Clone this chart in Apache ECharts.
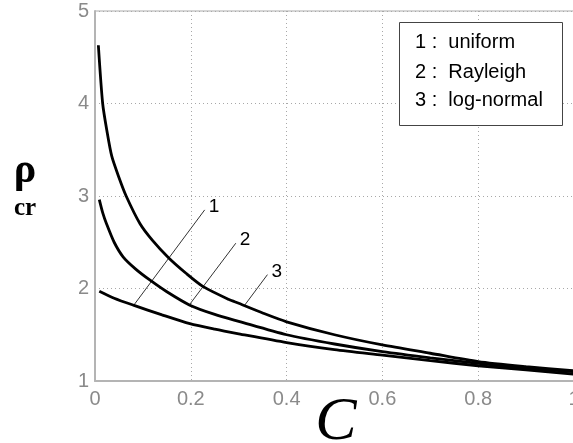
<!DOCTYPE html>
<html><head><meta charset="utf-8">
<script src="https://cdn.jsdelivr.net/npm/echarts@6/dist/echarts.min.js"></script>
<style>html,body{margin:0;padding:0;background:#fff}#c{width:573px;height:443px}</style>
</head><body><div id="c"></div>
<script>
// Data
var xTicks = [0, 0.2, 0.4, 0.6, 0.8, 1];
var yTicks = [1, 2, 3, 4, 5];
var legendNums = ['1', '2', '3'];
var legendNames = ['uniform', 'Rayleigh', 'log-normal'];
var uniformCurve = [[0.009,1.97],[0.04,1.895],[0.08,1.82],[0.14,1.715],[0.198,1.62],[0.25,1.56],[0.3,1.51],[0.4,1.415],[0.5,1.34],[0.6,1.28],[0.7,1.22],[0.8,1.165],[0.9,1.12],[1.0,1.075]];
var rayleighCurve = [[0.009,2.96],[0.016,2.82],[0.024,2.70],[0.04,2.50],[0.059,2.34],[0.085,2.21],[0.115,2.09],[0.15,1.965],[0.198,1.82],[0.25,1.72],[0.3,1.645],[0.4,1.50],[0.5,1.40],[0.6,1.317],[0.7,1.25],[0.8,1.19],[0.9,1.14],[1.0,1.10]];
var lognormalCurve = [[0.007,4.63],[0.016,4.0],[0.025,3.70],[0.035,3.43],[0.05,3.20],[0.065,3.0],[0.094,2.70],[0.12,2.52],[0.154,2.33],[0.19,2.165],[0.226,2.02],[0.28,1.88],[0.3,1.84],[0.35,1.735],[0.4,1.64],[0.5,1.50],[0.6,1.39],[0.7,1.30],[0.8,1.21],[0.9,1.155],[1.0,1.11]];
var leader1 = [[0.081,1.82],[0.229,2.85]];
var leader2 = [[0.198,1.83],[0.294,2.49]];
var leader3 = [[0.3125,1.82],[0.36,2.15]];

var chart = echarts.init(document.getElementById('c'), null, {renderer:'canvas'});
var FONT = 'Liberation Sans';
function curve(d){
  return {type:'line', data:d, smooth:0.25, symbol:'none', silent:true,
    lineStyle:{color:'#000', width:2.8}, z:5};
}
function leader(d, txt){
  return {type:'line', data:d, symbol:'none', silent:true,
    lineStyle:{color:'#333', width:1}, z:4,
    endLabel:{show:true, formatter:txt, color:'#000', fontFamily:FONT, fontSize:19, distance:2, offset:[2,-3]}};
}
var legendGraphics = [{type:'rect', shape:{x:399.5, y:22.5, width:163, height:103},
  style:{fill:'#fff', stroke:'#444', lineWidth:1}, z:10}];
var legendY = [42, 72, 100];
for (var i=0;i<legendNums.length;i++){
  legendGraphics.push({type:'text', x:415, y:legendY[i], z:11,
    style:{text:legendNums[i]+' :  '+legendNames[i], fill:'#000', font:'20px "'+FONT+'"', textVerticalAlign:'middle'}});
}
var option = {
  animation:false,
  backgroundColor:'#fff',
  grid:{left:95, top:11, width:479, height:370, containLabel:false, outerBoundsMode:'none',
    show:true, borderColor:'#aaa', borderWidth:1, backgroundColor:'transparent'},
  xAxis:{type:'value', min:xTicks[0], max:xTicks[xTicks.length-1], interval:0.2,
    axisLine:{show:true, onZero:false, lineStyle:{color:'#b4b4b4', width:2}},
    axisTick:{show:false},
    axisLabel:{color:'#8a8a8a', fontFamily:FONT, fontSize:20, margin:8},
    splitLine:{show:true, lineStyle:{color:'#a8a8a8', width:1, type:[1,3]}}},
  yAxis:{type:'value', min:yTicks[0], max:yTicks[yTicks.length-1], interval:1,
    axisLine:{show:true, onZero:false, lineStyle:{color:'#b4b4b4', width:2}},
    axisTick:{show:false},
    axisLabel:{color:'#8a8a8a', fontFamily:FONT, fontSize:20, margin:6},
    splitLine:{show:true, lineStyle:{color:'#a8a8a8', width:1, type:[1,3]}}},
  series:[curve(uniformCurve), curve(rayleighCurve), curve(lognormalCurve),
    leader(leader1, legendNums[0]), leader(leader2, legendNums[1]), leader(leader3, legendNums[2])],
  graphic: legendGraphics.concat([
    {type:'text', x:25, y:171, style:{text:'ρ', fill:'#000', font:'bold 42px "Liberation Serif"', textAlign:'center', textVerticalAlign:'middle'}},
    {type:'text', x:25, y:209, style:{text:'cr', fill:'#000', font:'bold 25px "Liberation Serif"', textAlign:'center', textVerticalAlign:'middle'}},
    {type:'text', x:336, y:423, style:{text:'C', fill:'#000', font:'italic 62px "Liberation Serif"', textAlign:'center', textVerticalAlign:'middle'}}
  ])
};
chart.setOption(option);
</script></body></html>
